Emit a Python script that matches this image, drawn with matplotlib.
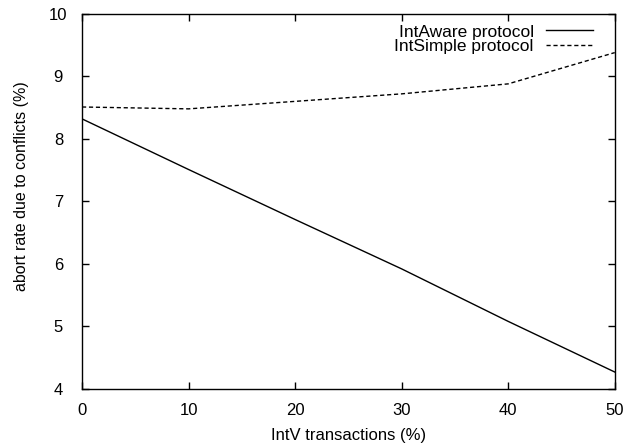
import matplotlib
matplotlib.use('Agg')
import matplotlib.pyplot as plt

intv_pct = [0, 10, 20, 30, 40, 50]
intaware_abort = [8.32, 7.51, 6.71, 5.92, 5.08, 4.27]
intsimple_abort = [8.51, 8.48, 8.60, 8.72, 8.88, 9.38]

plt.rcParams['font.family'] = ['Liberation Sans', 'DejaVu Sans']
plt.rcParams['font.size'] = 12

fig = plt.figure(figsize=(6.26, 4.47), dpi=100)
ax = fig.add_axes([0.131, 0.130, 0.851, 0.839])

ax.plot(intv_pct, intaware_abort, color='black', linewidth=1.0, label='IntAware protocol')
ax.plot(intv_pct, intsimple_abort, color='black', linewidth=1.0, linestyle=(0, (3, 2)),
        label='IntSimple protocol')

ax.set_xlim(0, 50)
ax.set_ylim(4, 10)
ax.set_xticks(range(0, 51, 10))
ax.set_yticks(range(4, 11))
ax.tick_params(direction='in', top=True, right=True, length=5, width=1.0)
ax.tick_params(axis='x', pad=10)
ax.tick_params(axis='y', pad=17)
for lbl in ax.get_yticklabels():
    lbl.set_horizontalalignment('center')
for s in ax.spines.values():
    s.set_linewidth(1.0)

ax.set_xlabel('IntV transactions (%)', labelpad=7)
ax.set_ylabel('abort rate due to conflicts (%)', fontsize=11.5)
ax.yaxis.set_label_coords(-0.1, 0.541)

ax.legend(loc='upper right', bbox_to_anchor=(0.959, 0.972), frameon=False,
          markerfirst=False, handlelength=2.7, borderaxespad=0, borderpad=0,
          labelspacing=-0.02, handletextpad=0.7, fontsize=12.5)

fig.savefig('out.png', dpi=100)
